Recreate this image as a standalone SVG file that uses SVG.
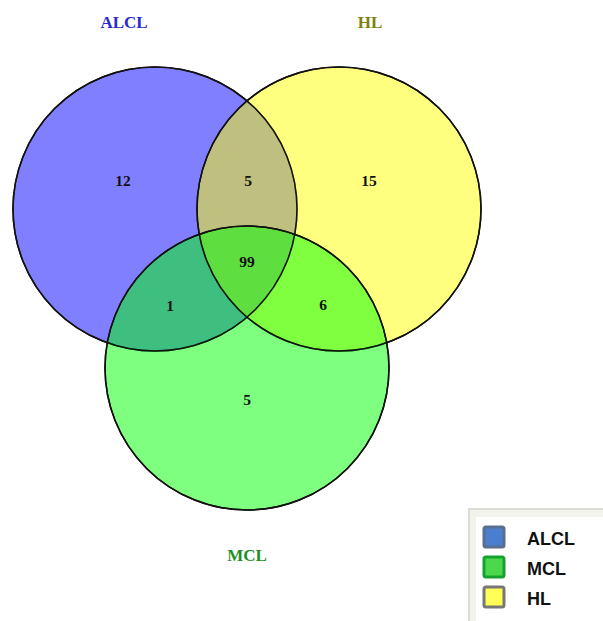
<svg xmlns="http://www.w3.org/2000/svg" width="603" height="621" viewBox="0 0 603 621">
<style>
.c{stroke:#111;stroke-width:1.5;fill-opacity:0.5}
.n{font-family:"Liberation Serif",serif;font-weight:bold;font-size:15.5px;fill:#111;text-anchor:middle}
.t{font-family:"Liberation Serif",serif;font-weight:bold;font-size:17px;text-anchor:middle}
.l{font-family:"Liberation Sans",sans-serif;font-weight:bold;font-size:18px;fill:#111}
.sw{stroke-width:3}
</style>
<rect width="603" height="621" fill="#fff"/>
<g id="set-alcl"><circle class="c" cx="155" cy="209" r="142" fill="#0000ff"/></g>
<g id="set-hl"><circle class="c" cx="339" cy="209" r="142" fill="#ffff00"/></g>
<g id="set-mcl"><circle class="c" cx="247" cy="368" r="142" fill="#00ff00"/></g>
<g id="outlines" fill="none" stroke="#111" stroke-width="1.5">
<circle cx="155" cy="209" r="142"/><circle cx="339" cy="209" r="142"/><circle cx="247" cy="368" r="142"/>
</g>
<g id="counts">
<text class="n" x="123" y="186">12</text>
<text class="n" x="248" y="186">5</text>
<text class="n" x="369" y="186">15</text>
<text class="n" x="247" y="267">99</text>
<text class="n" x="170" y="311">1</text>
<text class="n" x="323" y="310">6</text>
<text class="n" x="247" y="405">5</text>
</g>
<g id="titles">
<text class="t" x="124" y="28" fill="#2a2acf">ALCL</text>
<text class="t" x="370" y="28" fill="#7f7f10">HL</text>
<text class="t" x="247" y="561" fill="#1f8f1f">MCL</text>
</g>
<g id="legend">
<rect x="469" y="509" width="140" height="120" fill="#f3f3ee" stroke="#dcdcd4" stroke-width="2"/>
<rect x="476" y="517" width="130" height="110" fill="#fff"/>
<rect class="sw" x="484" y="527" width="20" height="20" rx="2" fill="#4a7fd0" stroke="#5a6e8e"/>
<rect class="sw" x="484" y="557" width="20" height="20" rx="2" fill="#4cd84c" stroke="#16a12e"/>
<rect class="sw" x="484" y="587" width="20" height="20" rx="2" fill="#ffff55" stroke="#777"/>
<text class="l" x="527" y="545">ALCL</text>
<text class="l" x="527" y="575">MCL</text>
<text class="l" x="527" y="605">HL</text>
</g>
</svg>
